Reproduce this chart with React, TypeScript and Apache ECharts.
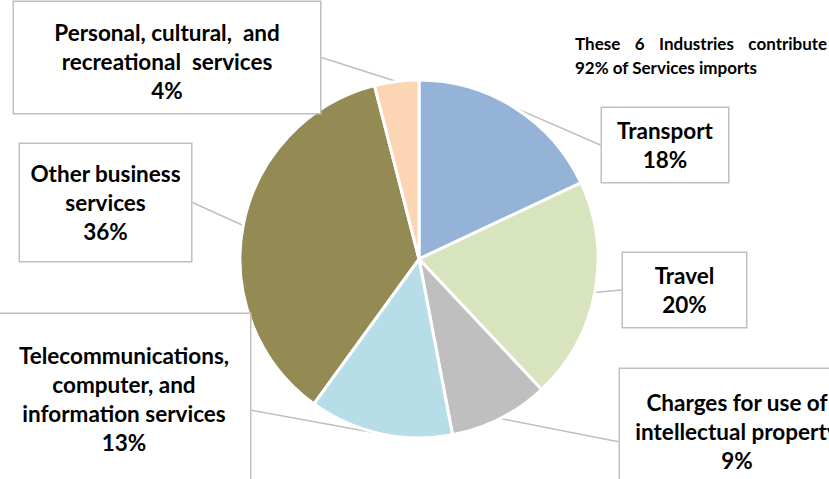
import React, { useEffect, useRef } from "react";
import * as echarts from "echarts";

const categories = [
  "Transport",
  "Travel",
  "Charges for use of intellectual property",
  "Telecommunications, computer, and information services",
  "Other business services",
  "Personal, cultural, and recreational services",
];
const labelText = [
  "Transport",
  "Travel",
  "Charges for use of\nintellectual property",
  "Telecommunications,\ncomputer, and\ninformation services",
  "Other business\nservices",
  "Personal, cultural,  and\nrecreational  services",
];
const shares = [18, 20, 9, 13, 36, 4];
const colors = ["#95B3D7", "#D7E4BD", "#BFBFBF", "#B7DEE8", "#948A54", "#FCD5B5"];
const noteWords = ["These", "6", "Industries", "contribute"];
const noteLine2 = "92% of Services imports";

// callout box layout: centre x, top y, width, padding
const boxes = [
  { cx: 665, top: 108, w: 126, pad: [8, 0, 8, 0] },
  { cx: 684.5, top: 253, w: 123, pad: [8, 0, 8, 0] },
  { cx: 737, top: 369, w: 234, pad: [18.5, 0, 40, 0] },
  { cx: 124, top: 314, w: 252, pad: [26.5, 0, 50, 0] },
  { cx: 105.5, top: 144, w: 171, pad: [15, 0, 15, 0] },
  { cx: 167, top: 2, w: 306, pad: [15.5, 0, 8.5, 0] },
];

const FONT = "Lato, 'Noto Sans', sans-serif";
const NOTE_SIZE = 17;

export default function App() {
  const ref = useRef<HTMLDivElement>(null);
  useEffect(() => {
    const chart = echarts.init(ref.current!, undefined, { renderer: "svg" });
    const noteStyle = {
      fontFamily: FONT,
      fontSize: NOTE_SIZE,
      fontWeight: "bold",
      lineHeight: 24,
      color: "#000",
    };
    chart.setOption({
      animation: false,
      backgroundColor: "#fff",
      title: {
        text: noteWords.map((w) => "{w|" + w + "}").join("{g| }") + "\n{w|" + noteLine2 + "}",
        left: 575,
        top: 31,
        padding: 0,
        textStyle: {
          ...noteStyle,
          rich: {
            w: { ...noteStyle },
            g: { ...noteStyle, width: 14.5 },
          },
        },
      },
      series: [
        {
          type: "pie",
          center: [419, 259],
          radius: 179,
          startAngle: 90,
          clockwise: true,
          avoidLabelOverlap: false,
          itemStyle: { borderColor: "#fff", borderWidth: 3 },
          label: {
            show: true,
            position: "outside",
            overflow: "none",
            fontFamily: FONT,
            fontSize: 22.5,
            fontWeight: "bold",
            lineHeight: 29,
            color: "#000",
            backgroundColor: "#fff",
            borderColor: "#BFBFBF",
            borderWidth: 1.5,
          },
          labelLine: {
            show: true,
            length: 10,
            length2: 0,
            minTurnAngle: 0,
            smooth: false,
            lineStyle: { color: "#BFBFBF", width: 1.5 },
          },
          emphasis: { disabled: true },
          labelLayout: (p: any) => {
            const b = boxes[p.dataIndex];
            return {
              x: b.cx,
              y: b.top,
              align: "center",
              verticalAlign: "top",
              width: b.w,
            };
          },
          data: categories.map((name, i) => ({
            name,
            value: shares[i],
            itemStyle: { color: colors[i] },
            label: {
              formatter: labelText[i] + "\n" + shares[i] + "%",
              padding: boxes[i].pad,
            },
          })),
        },
      ],
    });
    return () => chart.dispose();
  }, []);
  return (
    <div
      ref={ref}
      style={{ position: "fixed", left: 0, top: 0, width: 829, height: 479 }}
    />
  );
}
